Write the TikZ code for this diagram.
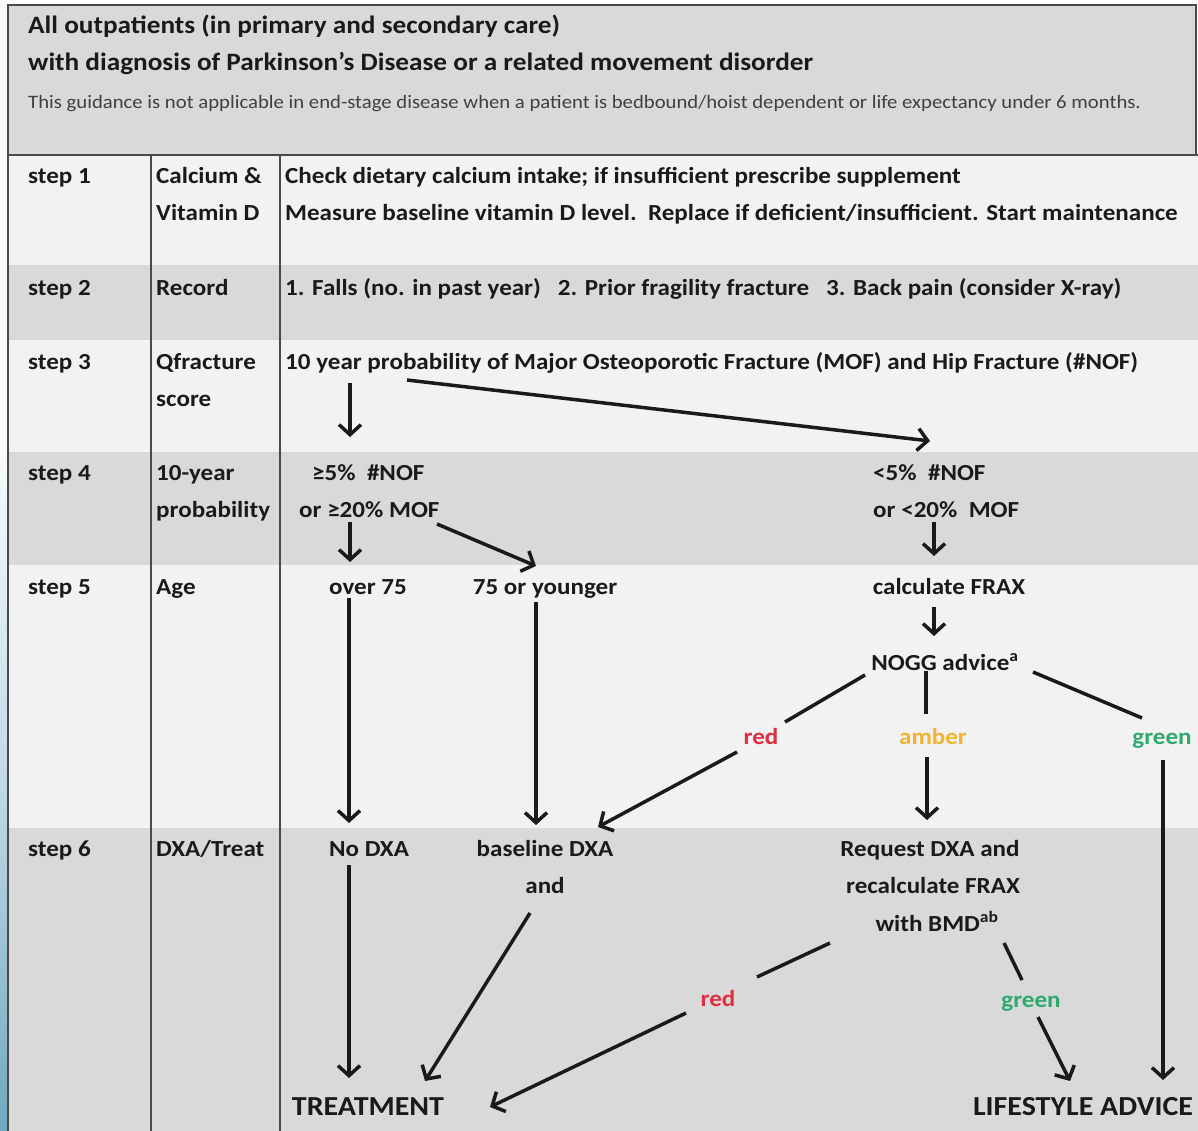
\documentclass[tikz,border=0pt]{standalone}
\usepackage{fontspec}
\setmainfont{Carlito}[FakeStretch=1.09]
\usetikzlibrary{arrows.meta}
\definecolor{lightrow}{HTML}{F2F2F2}
\definecolor{darkrow}{HTML}{D9D9D9}
\definecolor{rulec}{HTML}{4A4A4A}
\definecolor{ink}{HTML}{1A1A1A}
\definecolor{redlab}{HTML}{E0303F}
\definecolor{amberlab}{HTML}{F2B233}
\definecolor{greenlab}{HTML}{2EAA6E}
\definecolor{stripblue}{HTML}{6FA8C2}
\definecolor{stripmid}{HTML}{BFD9E6}
\begin{document}
\begin{tikzpicture}[x=1pt,y=-1pt,
  txt/.style={font=\fontsize{23}{26}\selectfont\bfseries, text=ink, inner sep=0pt},
  lft/.style={txt, anchor=mid west},
  ctr/.style={txt, anchor=mid},
  head/.style={lft, font=\fontsize{25}{28}\selectfont\bfseries},
  small/.style={font=\fontsize{19}{22}\selectfont, text=black!75, inner sep=0pt, anchor=mid west},
  big/.style={ctr, font=\fontsize{27.5}{30}\selectfont\bfseries},
  arr/.style={draw=ink, line width=3.5pt, -{Straight Barb[length=10pt,width=22pt]}},
  seg/.style={draw=ink, line width=3.5pt},
  rulel/.style={draw=rulec, line width=2.2pt}]
\useasboundingbox (0,0) rectangle (1198,1131);
% background and strip
\fill[white] (0,0) rectangle (1198,1131);
\fill[white!94!stripblue] (0,0) rectangle (8,450);
\shade[top color=white!94!stripblue, bottom color=stripblue, middle color=stripmid] (0,450) rectangle (8,1131);
% header and rows
\fill[darkrow] (8,5) rectangle (1196,155);
\fill[lightrow] (8,155) rectangle (1198,265);
\fill[darkrow] (8,265) rectangle (1198,340);
\fill[lightrow] (8,340) rectangle (1198,452);
\fill[darkrow] (8,452) rectangle (1198,565);
\fill[lightrow] (8,565) rectangle (1198,828);
\fill[darkrow] (8,828) rectangle (1198,1131);
% rules
\draw[rulel] (8,1131) -- (8,5) -- (1196,5) -- (1196,155);
\draw[rulel] (8,155) -- (1198,155);
\draw[rulel] (151,155) -- (151,1131);
\draw[rulel] (280,155) -- (280,1131);
% header text
\node[head] (t1) at (28,31) {All outpatients (in primary and secondary care)};
\node[head] (t2) at (28,68) {with diagnosis of Parkinson's Disease or a related movement disorder};
\node[small] (t3) at (28,106) {This guidance is not applicable in end-stage disease when a patient is bedbound/hoist dependent or life expectancy under 6 months.};
% column 1
\node[lft] (st1) at (28,181) {step 1};
\node[lft] (st2) at (28,293) {step 2};
\node[lft] (st3) at (28,367) {step 3};
\node[lft] (st4) at (28,478) {step 4};
\node[lft] (st5) at (28,592) {step 5};
\node[lft] (st6) at (28,854) {step 6};
% column 2
\node[lft] (c1a) at (156,181) {Calcium \&};
\node[lft] (c1b) at (156,218) {Vitamin D};
\node[lft] (c2) at (156,293) {Record};
\node[lft] (c3a) at (156,367) {Qfracture};
\node[lft] (c3b) at (156,404) {score};
\node[lft] (c4a) at (156,478) {10-year};
\node[lft] (c4b) at (156,515) {probability};
\node[lft] (c5) at (156,592) {Age};
\node[lft] (c6) at (156,854) {DXA/Treat};
% column 3 text
\node[lft] (d1a) at (285,181) {Check dietary calcium intake; if insufficient prescribe supplement};
\node[lft] (d1b) at (285,218) {Measure baseline vitamin D level.\ \ Replace if deficient/insufficient. Start maintenance};
\node[lft] (d2) at (285,293) {1. Falls (no. in past year)\ \ \ 2. Prior fragility fracture\ \ \ 3. Back pain (consider X-ray)};
\node[lft] (d3) at (285,367) {10 year probability of Major Osteoporotic Fracture (MOF) and Hip Fracture (\#NOF)};
\node[lft] (hi1) at (312,478) {≥5\%\ \ \#NOF};
\node[lft] (hi2) at (299,515) {or ≥20\% MOF};
\node[lft] (lo1) at (873,478) {<5\%\ \ \#NOF};
\node[lft] (lo2) at (873,515) {or <20\%\ \ MOF};
\node[ctr] (over) at (368,592) {over 75};
\node[ctr] (young) at (545,592) {75 or younger};
\node[ctr] (frax) at (949,592) {calculate FRAX};
\node[ctr] (nogg) at (945,668) {NOGG advice\textsuperscript{a}};
\node[ctr, text=redlab] (red1) at (761,742) {red};
\node[ctr, text=amberlab] (amber) at (933,742) {amber};
\node[ctr, text=greenlab] (green1) at (1162,742) {green};
\node[ctr] (nodxa) at (369,854) {No DXA};
\node[ctr] (base1) at (545,854) {baseline DXA};
\node[ctr] (base2) at (545,891) {and};
\node[ctr] (req1) at (930,854) {Request DXA and};
\node[ctr] (req2) at (933,891) {recalculate FRAX};
\node[ctr] (req3) at (937,929) {with BMD\textsuperscript{ab}};
\node[ctr, text=redlab] (red2) at (718,1004) {red};
\node[ctr, text=greenlab] (green2) at (1031,1005) {green};
\node[big] (treat) at (368,1113) {TREATMENT};
\node[big] (life) at (1083,1113) {LIFESTYLE ADVICE};
% connector end points
\coordinate (q3a) at (350,383); \coordinate (q4a) at (350,437);
\coordinate (q3b) at (407,380); \coordinate (q4b) at (930,441);
\coordinate (h4a) at (350,522); \coordinate (h5a) at (350,562);
\coordinate (h4b) at (437,524); \coordinate (h5b) at (536,566);
\coordinate (l4) at (934,522); \coordinate (l5) at (934,556);
\coordinate (o5) at (349,598); \coordinate (o6) at (349,823);
\coordinate (y5) at (536,602); \coordinate (y6) at (536,825);
\coordinate (f5) at (934,607); \coordinate (f6) at (934,636);
\coordinate (nr) at (865,675); \coordinate (rr1) at (785,722);
\coordinate (rr2) at (737,752); \coordinate (bb6) at (598,827);
\coordinate (na) at (926,671); \coordinate (aa1) at (926,714);
\coordinate (aa2) at (927,757); \coordinate (rq6) at (927,820);
\coordinate (ng) at (1033,672); \coordinate (gg1) at (1142,718);
\coordinate (gg2) at (1163,760); \coordinate (la1) at (1163,1080);
\coordinate (nd6) at (349,865); \coordinate (tr1) at (349,1078);
\coordinate (an6) at (530,913); \coordinate (tr2) at (425,1081);
\coordinate (rq7) at (830,943); \coordinate (rd1) at (757,977);
\coordinate (rd2) at (686,1013); \coordinate (tr3) at (490,1107);
\coordinate (rq8) at (1004,943); \coordinate (gn1) at (1022,980);
\coordinate (gn2) at (1038,1017); \coordinate (la2) at (1070,1081);
% connectors
\draw[arr] (q3a) -- (q4a);
\draw[arr] (q3b) -- (q4b);
\draw[arr] (h4a) -- (h5a);
\draw[arr] (h4b) -- (h5b);
\draw[arr] (l4) -- (l5);
\draw[arr] (o5) -- (o6);
\draw[arr] (y5) -- (y6);
\draw[arr] (f5) -- (f6);
\draw[seg] (nr) -- (rr1);
\draw[arr] (rr2) -- (bb6);
\draw[seg] (na) -- (aa1);
\draw[arr] (aa2) -- (rq6);
\draw[seg] (ng) -- (gg1);
\draw[arr] (gg2) -- (la1);
\draw[arr] (nd6) -- (tr1);
\draw[arr] (an6) -- (tr2);
\draw[seg] (rq7) -- (rd1);
\draw[arr] (rd2) -- (tr3);
\draw[seg] (rq8) -- (gn1);
\draw[arr] (gn2) -- (la2);
\end{tikzpicture}
\end{document}
